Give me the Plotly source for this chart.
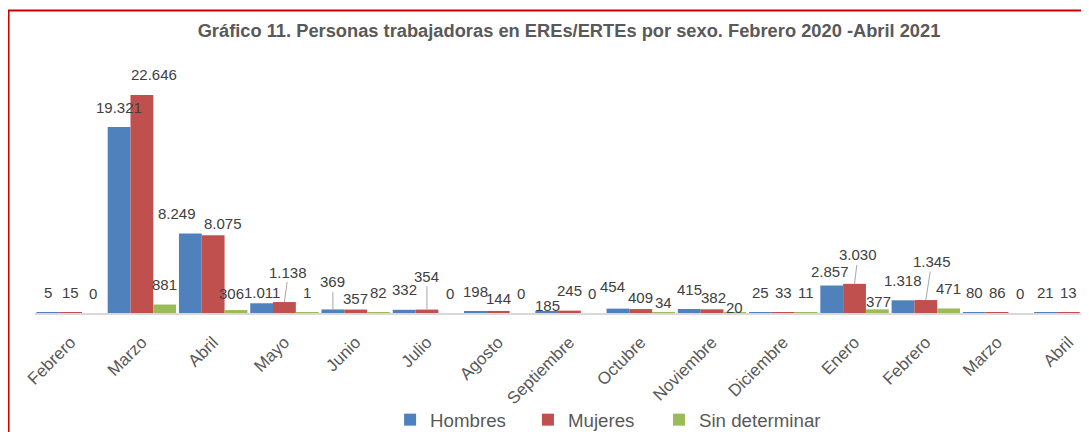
import plotly.graph_objects as go

# ---------------- data ----------------
months = ["Febrero", "Marzo", "Abril", "Mayo", "Junio", "Julio", "Agosto",
          "Septiembre", "Octubre", "Noviembre", "Diciembre", "Enero",
          "Febrero", "Marzo", "Abril"]
hombres = [5, 19321, 8249, 1011, 369, 332, 198, 185, 454, 415, 25, 2857, 1318, 80, 21]
mujeres = [15, 22646, 8075, 1138, 357, 354, 144, 245, 409, 382, 33, 3030, 1345, 86, 13]
sin_determinar = [0, 881, 306, 1, 82, 0, 0, 0, 34, 20, 11, 377, 471, 0, 0]

series_names = ["Hombres", "Mujeres", "Sin determinar"]
series_values = [hombres, mujeres, sin_determinar]
title_text = "Gráfico 11. Personas trabajadoras en EREs/ERTEs por sexo. Febrero 2020 -Abril 2021"

# ---------------- style ----------------
colors = ["#4F81BD", "#C0504D", "#9BBB59"]
FONT = "Liberation Sans"
BAR_GAP = 0.04
W, H = 1081, 424  # page body adds an 8px margin
legend_ids = ["legend", "legend2", "legend3"]
legend_x = [0.3369, 0.4677, 0.592]
# label placement (pixel offsets from the bar top) for labels moved in the original
DEFAULT_OFF = (0, -20, False)
label_offsets = {
    (1, 1): (12, -21, False),
    (0, 2): (-13, -20, False),
    (1, 2): (10, -12, False),
    (2, 2): (-4, -17, False),
    (0, 3): (0, -10.5, False),
    (1, 3): (4, -30, True),
    (0, 4): (0, -27.5, True),
    (1, 4): (0, -11, False),
    (1, 5): (0, -33.5, True),
    (1, 6): (0, -13, False),
    (0, 7): (1, -6, False),
    (0, 8): (-5, -22, False),
    (1, 8): (0, -11.5, False),
    (2, 8): (0, -10.5, False),
    (1, 9): (1, -11.5, False),
    (2, 9): (0, -5.5, False),
    (0, 11): (-2, -14.5, False),
    (1, 11): (3.5, -29, True),
    (2, 11): (1, -8, False),
    (1, 12): (6, -38.5, True),
}


def fmt(v):
    return f"{v:,}".replace(",", ".")


x_idx = list(range(len(months)))
fig = go.Figure()
for name, vals, col, lg in zip(series_names, series_values, colors, legend_ids):
    fig.add_trace(go.Bar(x=x_idx, y=vals, name=name, marker_color=col,
                         marker_line_width=0, legend=lg))

n_series = len(series_names)
bar_w = (1 - BAR_GAP) / n_series
annotations = []
for s, vals in enumerate(series_values):
    for i, v in enumerate(vals):
        dx, dy, leader = label_offsets.get((s, i), DEFAULT_OFF)
        xc = i + (s - (n_series - 1) / 2) * bar_w
        base = dict(x=xc, y=v, xref="x", yref="y", text=fmt(v),
                    font=dict(family=FONT, size=15, color="#404040"))
        if leader:
            base.update(showarrow=True, ax=dx, ay=dy, arrowhead=0,
                        arrowwidth=1, arrowcolor="#A6A6A6")
        else:
            base.update(showarrow=False, xshift=dx, yshift=-dy,
                        xanchor="center", yanchor="middle")
        annotations.append(base)

legend_style = dict(orientation="h", xanchor="left", y=-0.4632, yanchor="middle",
                    font=dict(family=FONT, size=18.7, color="#595959"),
                    bgcolor="rgba(0,0,0,0)")

fig.update_layout(
    width=W, height=H,
    margin=dict(l=27, r=0, t=74, b=119, autoexpand=False),
    paper_bgcolor="white", plot_bgcolor="white",
    barmode="group", bargap=BAR_GAP, bargroupgap=0,
    title=dict(text=f"<b>{title_text}</b>", x=561 / W, xanchor="center",
               y=1 - 23 / H, yanchor="middle", yref="container",
               font=dict(family=FONT, size=18.3, color="#595959")),
    xaxis=dict(tickmode="array", tickvals=x_idx, ticktext=months,
               range=[-0.5, 14.29], tickangle=-45, showgrid=False,
               zeroline=False, showline=True, linecolor="#D9D9D9", linewidth=1.5,
               ticks="outside", ticklen=11, tickcolor="rgba(0,0,0,0)",
               tickfont=dict(family=FONT, size=17, color="#595959")),
    yaxis=dict(range=[0, 24000], visible=False, showgrid=False, zeroline=False),
    showlegend=True,
    annotations=annotations,
    shapes=[dict(type="rect", xref="paper", yref="paper",
                 x0=-0.0251, x1=1.02, y0=-0.7, y1=1.3095,
                 line=dict(color="#CC0000", width=2), fillcolor="rgba(0,0,0,0)")],
)
for lg, lx in zip(legend_ids, legend_x):
    fig.update_layout({lg: dict(legend_style, x=lx)})

fig.write_html("out.html")
